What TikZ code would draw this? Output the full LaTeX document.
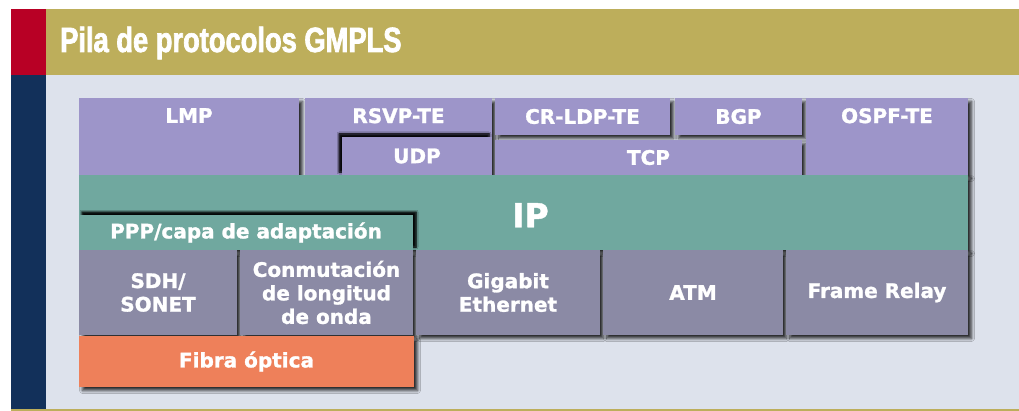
\documentclass[tikz,border=0pt]{standalone}
\usepackage{fontspec}
\setmainfont{DejaVu Sans}[BoldFeatures={FakeBold=1.3}]
\newfontfamily\titlefont{Liberation Sans}[FakeStretch=0.78, BoldFeatures={FakeBold=2}]
\usetikzlibrary{
	positioning,
	shadows.blur
}
\definecolor{framered}{HTML}{B80025}
\definecolor{framenavy}{HTML}{12305A}
\definecolor{frameolive}{HTML}{BDAE5B}
\definecolor{panelcolor}{HTML}{DDE2EC}
\definecolor{ctrlcolor}{HTML}{9D95C9}
\definecolor{ipcolor}{HTML}{70A89F}
\definecolor{linkcolor}{HTML}{8B8AA5}
\definecolor{fibrecolor}{HTML}{EE805A}
\tikzset{
	layerbox/.style={
		anchor=north west,
		inner sep=0pt,
		outer sep=0pt,
		text=white,
		align=center,
		font=\fontsize{20}{23.5}\selectfont\bfseries,
		blur shadow={shadow xshift=3.5pt, shadow yshift=-3.5pt,
			shadow blur radius=3pt, shadow blur steps=6,
			shadow opacity=80}
	},
	ctrlbox/.style={
		layerbox,
		fill=ctrlcolor
	},
	insetbox/.style={
		ctrlbox,
		blur shadow={shadow xshift=-3pt, shadow yshift=3pt,
			shadow blur radius=2pt, shadow blur steps=5,
			shadow opacity=80}
	},
	ipbox/.style={
		layerbox,
		fill=ipcolor
	},
	adaptbox/.style={
		ipbox,
		blur shadow={shadow xshift=3pt, shadow yshift=3pt,
			shadow blur radius=2pt, shadow blur steps=5,
			shadow opacity=80}
	},
	linkbox/.style={
		layerbox,
		fill=linkcolor
	},
	fibrebox/.style={
		layerbox,
		fill=fibrecolor
	},
	toptext/.style={
		anchor=north,
		inner sep=0pt,
		yshift=-10pt,
		text=white,
		font=\fontsize{20}{23.5}\selectfont\bfseries
	},
	iptext/.style={
		anchor=north,
		inner sep=0pt,
		xshift=7pt,
		yshift=-28pt,
		text=white,
		font=\fontsize{33}{36}\selectfont\bfseries
	}
}

\begin{document}
\begin{tikzpicture}[x=1pt, y=-1pt]
	\useasboundingbox (0,0) rectangle (1019,411);
	
	% Frame
	\fill[white] (0,0) rectangle (1019,411);
	\fill[framered] (11,9) rectangle (46,75);
	\fill[framenavy] (11,75) rectangle (46,409);
	\fill[frameolive] (46,9) rectangle (1019,75);
	\fill[panelcolor] (46,75) rectangle (1019,409);
	\fill[frameolive] (11,409) rectangle (1019,411);
	\node[anchor=base west, inner sep=0pt, text=white,
		font=\titlefont\bfseries\fontsize{35}{40}\selectfont]
		(title) at (60,52) {Pila de protocolos GMPLS};
	
	% Control plane
	\node[ctrlbox, minimum width=220, minimum height=77,
		label={[toptext]north:LMP}] (lmp) at (79,98) {};
	\node[ctrlbox, minimum width=187, minimum height=77,
		label={[toptext]north:RSVP-TE}] (rsvp) at (305,98) {};
	\node[insetbox, minimum width=150, minimum height=38] (udp) at (342,137) {UDP};
	\node[ctrlbox, minimum width=175, minimum height=37] (crldp) at (495,98) {CR-LDP-TE};
	\node[ctrlbox, minimum width=127, minimum height=37] (bgp) at (675,98) {BGP};
	\node[ctrlbox, minimum width=307, minimum height=35] (tcp) at (495,140) {TCP};
	\node[ctrlbox, minimum width=162, minimum height=77,
		label={[toptext]north:OSPF-TE}] (ospf) at (806,98) {};
	
	% IP layer
	\node[ipbox, minimum width=889, minimum height=75,
		label={[iptext]north:IP}] (ip) at (79,175) {};
	\node[adaptbox, minimum width=334, minimum height=35] (ppp) at (79,215) {PPP/capa de adaptación};
	
	% Link layer
	\node[linkbox, minimum width=158, minimum height=85] (sdh) at (79,250) {SDH/\\SONET};
	\node[linkbox, minimum width=173, minimum height=85] (lambda) at (240,250) {Conmutación\\de longitud\\de onda};
	\node[linkbox, minimum width=184, minimum height=85] (gige) at (416,250) {Gigabit\\Ethernet};
	\node[linkbox, minimum width=180, minimum height=85] (atm) at (603,250) {ATM};
	\node[linkbox, minimum width=182, minimum height=85] (fr) at (786,250) {Frame Relay};
	
	% Physical layer
	\node[fibrebox, minimum width=335, minimum height=51] (fibre) at (79,336) {Fibra óptica};
	
\end{tikzpicture}
\end{document}
